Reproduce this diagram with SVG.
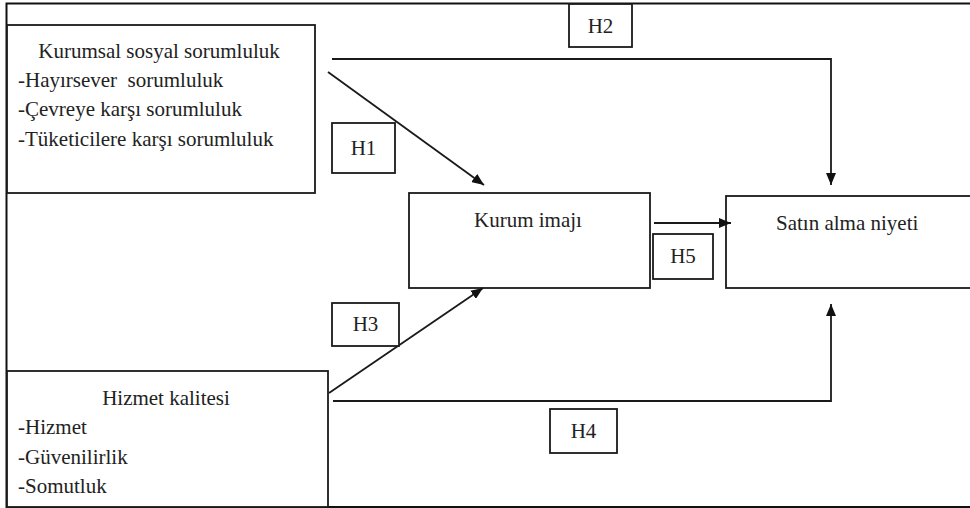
<svg xmlns="http://www.w3.org/2000/svg" width="970" height="508" viewBox="0 0 970 508">
  <defs>
    <marker id="arrow" markerUnits="userSpaceOnUse" markerWidth="12" markerHeight="10" refX="12" refY="5" orient="auto">
      <path d="M0,0 L12,5 L0,10 z" fill="#111"/>
    </marker>
    <style>
      .box { fill: #fff; stroke: #1a1a1a; stroke-width: 1.8; }
      .frame { fill: none; stroke: #111; stroke-width: 2; }
      .conn { fill: none; stroke: #1a1a1a; stroke-width: 1.8; marker-end: url(#arrow); }
      .t { font-size: 21px; fill: #222; }
      .c { text-anchor: middle; }
    </style>
  </defs>
  <rect width="970" height="508" fill="#fff"/>
  <path class="frame" d="M990 3.5 H6.5 V507 H990"/>

  <g font-family="'Liberation Serif', 'Times New Roman', 'DejaVu Serif', serif">
  <g id="kss">
    <rect class="box" x="7" y="25" width="308" height="168"/>
    <text class="t c" x="159" y="58">Kurumsal sosyal sorumluluk</text>
    <text class="t" x="18" y="87" xml:space="preserve">-Hayırsever  sorumluluk</text>
    <text class="t" x="18" y="116">-Çevreye karşı sorumluluk</text>
    <text class="t" x="18" y="146">-Tüketicilere karşı sorumluluk</text>
  </g>

  <g id="hizmet">
    <rect class="box" x="7" y="371" width="321" height="136"/>
    <text class="t c" x="166" y="405">Hizmet kalitesi</text>
    <text class="t" x="18" y="434">-Hizmet</text>
    <text class="t" x="18" y="464">-Güvenilirlik</text>
    <text class="t" x="18" y="493">-Somutluk</text>
  </g>

  <g id="kurum">
    <rect class="box" x="409" y="193" width="241" height="95"/>
    <text class="t c" x="528" y="227">Kurum imajı</text>
  </g>

  <g id="satin">
    <rect class="box" x="726" y="196" width="300" height="92"/>
    <text class="t" x="776" y="230">Satın alma niyeti</text>
  </g>

  <g id="connectors">
    <path class="conn" d="M332 59 H831 V185"/>
    <path class="conn" d="M328 72 L484 185"/>
    <path class="conn" d="M329 393 L483 288"/>
    <path class="conn" d="M333 401 H831 V304"/>
    <path class="conn" d="M654 223 H731"/>
  </g>

  <g id="h1">
    <rect class="box" x="332" y="123" width="63" height="50"/>
    <text class="t c" x="363.5" y="155">H1</text>
  </g>
  <g id="h2">
    <rect class="box" x="569" y="4" width="63" height="43"/>
    <text class="t c" x="600.5" y="33">H2</text>
  </g>
  <g id="h3">
    <rect class="box" x="332" y="303" width="67" height="43"/>
    <text class="t c" x="365.5" y="331">H3</text>
  </g>
  <g id="h4">
    <rect class="box" x="550" y="409" width="67" height="44"/>
    <text class="t c" x="583.5" y="438">H4</text>
  </g>
  <g id="h5">
    <rect class="box" x="653" y="234" width="60" height="45"/>
    <text class="t c" x="683" y="263">H5</text>
  </g>
  </g>
</svg>
